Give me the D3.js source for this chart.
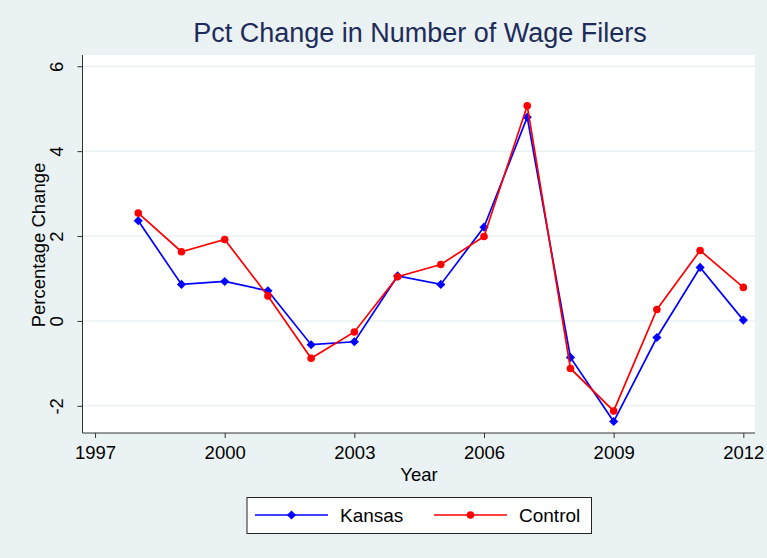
<!DOCTYPE html>
<html><head><meta charset="utf-8">
<script src="https://cdn.jsdelivr.net/npm/d3@7"></script>
<style>body{margin:0;background:#eaf2f3;}svg{display:block;}</style>
</head><body>
<svg id="c" width="767" height="558"></svg>
<script>
const years = [1998,1999,2000,2001,2002,2003,2004,2005,2006,2007,2008,2009,2010,2011,2012];
const kansas = [2.36,0.86,0.93,0.71,-0.56,-0.49,1.06,0.86,2.21,4.80,-0.86,-2.37,-0.39,1.26,0.02];
const control = [2.54,1.63,1.92,0.59,-0.88,-0.26,1.04,1.33,1.99,5.07,-1.12,-2.12,0.27,1.66,0.79];
const xTicks = [1997,2000,2003,2006,2009,2012];
const yTicks = [-2,0,2,4,6];
const seriesNames = ["Kansas","Control"];

const svg = d3.select("#c");
const font = "'Liberation Sans', Arial, sans-serif";
const L = 82.5, R = 755, T = 55, B = 433;
svg.append("rect").attr("width",767).attr("height",558).attr("fill","#eaf2f3");

const x = d3.scaleLinear().domain([1996.71, 2012.27]).range([L, R]);
const y = d3.scaleLinear().domain([-2.64, 6.265]).range([B, T]);

svg.append("rect").attr("x",L).attr("y",T).attr("width",R-L).attr("height",B-T).attr("fill","#ffffff");

// gridlines
svg.append("g").selectAll("line").data(yTicks).join("line")
  .attr("x1",L).attr("x2",R).attr("y1",d=>y(d)).attr("y2",d=>y(d))
  .attr("stroke","#eaf2f3").attr("stroke-width",1.5);

// axes
const yAxis = svg.append("g").attr("transform",`translate(${L},0)`)
  .call(d3.axisLeft(y).tickValues(yTicks).tickSize(5).tickFormat(d=>String(d)));
yAxis.select(".domain").attr("stroke","#333").attr("d",`M0,${T}V${B}`);
yAxis.selectAll(".tick line").attr("stroke","#333");
yAxis.selectAll(".tick text").attr("font-family",font).attr("font-size",18.5).attr("fill","#000")
  .attr("transform","rotate(-90)").attr("x",0).attr("y",-19.5).attr("dy","0").attr("text-anchor","middle");

const xAxis = svg.append("g").attr("transform",`translate(0,${B})`)
  .call(d3.axisBottom(x).tickValues(xTicks).tickSize(5).tickFormat(d=>String(d)));
xAxis.select(".domain").attr("stroke","#333").attr("d",`M${L},0H${R}`);
xAxis.selectAll(".tick line").attr("stroke","#333");
xAxis.selectAll(".tick text").attr("font-family",font).attr("font-size",18.5).attr("fill","#000")
  .attr("y",26).attr("dy","0");

// titles
svg.append("text").attr("x",420).attr("y",42).attr("text-anchor","middle")
  .attr("font-family",font).attr("font-size",27).attr("fill","#1e2c5a")
  .text("Pct Change in Number of Wage Filers");
svg.append("text").attr("x",419).attr("y",481).attr("text-anchor","middle")
  .attr("font-family",font).attr("font-size",18.5).attr("fill","#000").text("Year");
svg.append("text").attr("transform",`translate(45,245) rotate(-90)`).attr("text-anchor","middle")
  .attr("font-family",font).attr("font-size",18.5).attr("fill","#000").text("Percentage Change");

const line = d3.line().x(d=>x(d[0])).y(d=>y(d[1]));
const kData = years.map((yr,i)=>[yr,kansas[i]]);
const cData = years.map((yr,i)=>[yr,control[i]]);
const diamond = d3.symbol().type(d3.symbolSquare).size(42);

svg.append("path").datum(kData).attr("d",line).attr("fill","none").attr("stroke","#0000ff").attr("stroke-width",1.7);
svg.append("g").selectAll("path").data(kData).join("path")
  .attr("d",diamond).attr("transform",d=>`translate(${x(d[0])},${y(d[1])}) rotate(45)`).attr("fill","#0000ff");
svg.append("path").datum(cData).attr("d",line).attr("fill","none").attr("stroke","#ff0000").attr("stroke-width",1.7);
svg.append("g").selectAll("circle").data(cData).join("circle")
  .attr("cx",d=>x(d[0])).attr("cy",d=>y(d[1])).attr("r",3.8).attr("fill","#ff0000");

// legend
const lg = svg.append("g");
lg.append("rect").attr("x",247).attr("y",497.5).attr("width",344.5).attr("height",36)
  .attr("fill","#fff").attr("stroke","#222").attr("stroke-width",1);
const items = [{name:seriesNames[0],color:"#0000ff",x0:255,type:"d"},{name:seriesNames[1],color:"#ff0000",x0:434,type:"c"}];
items.forEach(it=>{
  const ly = 515;
  lg.append("line").attr("x1",it.x0).attr("x2",it.x0+73).attr("y1",ly).attr("y2",ly).attr("stroke",it.color).attr("stroke-width",1.7);
  if(it.type==="d") lg.append("path").attr("d",diamond).attr("transform",`translate(${it.x0+36.5},${ly}) rotate(45)`).attr("fill",it.color);
  else lg.append("circle").attr("cx",it.x0+36.5).attr("cy",ly).attr("r",3.8).attr("fill",it.color);
  lg.append("text").attr("x",it.x0+85).attr("y",ly+7.3).attr("font-family",font).attr("font-size",19).attr("fill","#000").text(it.name);
});
</script>
</body></html>
